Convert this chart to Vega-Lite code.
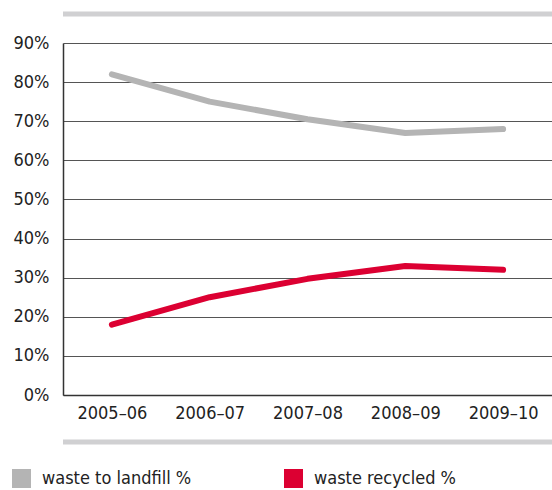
{
  "$schema": "https://vega.github.io/schema/vega-lite/v6.json",
  "width": 489,
  "height": 352,
  "autosize": {"type": "none"},
  "padding": {"left": 63, "top": 43, "right": 0, "bottom": 95},
  "background": "white",
  "config": {
    "font": "DejaVu Sans Condensed",
    "view": {"stroke": null},
    "axisY": {
      "title": null,
      "labelOverlap": false,
      "ticks": false,
      "labelFontSize": 18,
      "labelColor": "#222222",
      "labelPadding": 14,
      "domainColor": "#333333",
      "domainWidth": 1.5,
      "gridColor": "#555555",
      "gridWidth": 1.2,
      "gridOpacity": 1
    }
  },
  "datasets": {
    "waste": [
      {"year": "2005–06", "series": "waste to landfill %", "pct": 82},
      {"year": "2006–07", "series": "waste to landfill %", "pct": 75},
      {"year": "2007–08", "series": "waste to landfill %", "pct": 70.5},
      {"year": "2008–09", "series": "waste to landfill %", "pct": 67},
      {"year": "2009–10", "series": "waste to landfill %", "pct": 68},
      {"year": "2005–06", "series": "waste recycled %", "pct": 18},
      {"year": "2006–07", "series": "waste recycled %", "pct": 25},
      {"year": "2007–08", "series": "waste recycled %", "pct": 29.7},
      {"year": "2008–09", "series": "waste recycled %", "pct": 33},
      {"year": "2009–10", "series": "waste recycled %", "pct": 32}
    ],
    "bands": [
      {"level": 97.4},
      {"level": -12}
    ]
  },
  "layer": [
    {
      "data": {"name": "waste"},
      "mark": {"type": "line", "strokeWidth": 6, "strokeCap": "round", "strokeJoin": "round", "clip": false},
      "encoding": {
        "x": {
          "field": "year",
          "type": "ordinal",
          "sort": null,
          "scale": {"type": "point", "padding": 0.5},
          "axis": {
            "title": null,
            "ticks": false,
            "grid": false,
            "labelAngle": 0,
            "labelFontSize": 18,
            "labelColor": "#222222",
            "labelPadding": 9,
            "labelOverlap": false,
            "domainColor": "#333333",
            "domainWidth": 1.5
          }
        },
        "y": {
          "field": "pct",
          "type": "quantitative",
          "scale": {"domain": [0, 90], "nice": false},
          "axis": {
            "values": [0, 10, 20, 30, 40, 50, 60, 70, 80, 90],
            "labelExpr": "datum.value + '%'"
          }
        },
        "color": {
          "field": "series",
          "type": "nominal",
          "sort": ["waste to landfill %", "waste recycled %"],
          "scale": {"domain": ["waste to landfill %", "waste recycled %"], "range": ["#b4b4b4", "#dc0032"]},
          "legend": {
            "title": null,
            "orient": "none",
            "legendX": -51,
            "legendY": 426,
            "direction": "horizontal",
            "symbolType": "square",
            "symbolSize": 361,
            "symbolStrokeWidth": 0,
            "symbolOpacity": 1,
            "labelFontSize": 18,
            "labelColor": "#222222",
            "labelOffset": 11,
            "columnPadding": 92,
            "padding": 0,
            "encode": {
              "symbols": {
                "update": {
                  "fill": {"scale": "color", "field": "value"},
                  "fillOpacity": {"value": 1}
                }
              }
            }
          }
        }
      }
    },
    {
      "data": {"name": "bands"},
      "mark": {"type": "rule", "color": "#d0d0d2", "strokeWidth": 5, "clip": false},
      "encoding": {
        "y": {
          "field": "level",
          "type": "quantitative",
          "scale": {"domain": [0, 90], "nice": false},
          "axis": {
            "values": [0, 10, 20, 30, 40, 50, 60, 70, 80, 90],
            "labelExpr": "datum.value + '%'"
          }
        }
      }
    }
  ]
}
